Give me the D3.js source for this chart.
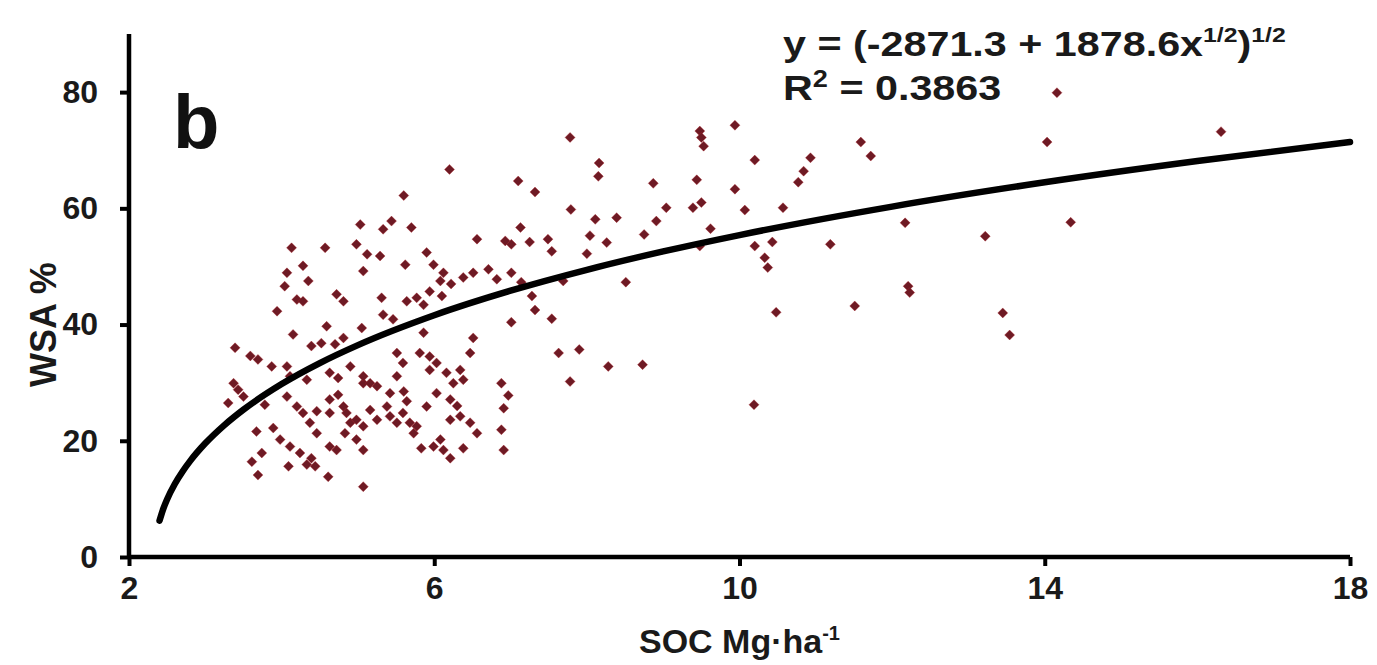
<!DOCTYPE html>
<html><head><meta charset="utf-8">
<script src="https://cdn.jsdelivr.net/npm/d3@7"></script>
<style>body{margin:0;background:#fff}svg{display:block}text{font-family:"Liberation Sans",Arial,sans-serif}</style>
</head><body><svg id="c" width="1377" height="665"></svg>
<script>
// --- data ---
const socValues = [14.16,14.03,16.31,12.17,13.22,14.34,12.21,12.23,13.45,13.54,
7.78,7.10,7.32,8.16,8.15,9.48,9.50,9.53,9.94,10.20,10.93,10.84,10.77,11.59,11.72,8.87,9.44,9.39,9.50,9.04,8.91,8.75,9.62,9.94,10.07,10.57,11.19,10.20,10.33,10.37,10.43,11.51,10.48,10.19,7.79,8.11,8.39,8.04,8.26,8.0,7.49,7.54,7.25,6.93,7.01,7.13,7.01,7.14,7.28,7.69,8.51,9.48,7.32,7.54,7.01,7.63,7.90,7.78,8.28,8.73,6.88,6.97,6.91,6.88,6.91,
5.03,5.33,5.44,5.70,6.56,4.13,4.57,4.98,5.12,5.29,5.07,5.62,5.90,5.99,6.12,6.08,6.38,6.51,6.71,6.82,4.07,4.04,4.28,4.35,4.20,4.28,3.94,4.72,4.81,4.59,4.15,5.05,5.31,5.33,5.46,5.64,5.77,5.86,5.94,6.10,6.22,5.86,6.51,4.39,4.52,4.81,4.70,3.39,3.59,3.69,3.87,4.07,3.37,3.43,3.30,3.50,3.78,3.67,3.89,3.98,4.11,3.61,3.74,3.69,4.09,4.24,4.39,4.44,4.33,4.61,5.07,4.63,4.72,4.83,4.98,5.07,4.46,4.63,4.81,4.07,4.20,4.28,4.11,4.33,4.63,4.74,4.90,5.07,5.16,5.25,5.51,5.42,5.60,5.64,5.81,5.94,6.03,5.94,6.16,6.25,6.34,6.38,6.47,6.21,6.34,6.47,6.56,6.08,6.12,6.21,5.83,5.99,6.38,5.59,5.68,5.77,5.73,5.38,5.42,5.51,5.16,5.25,5.07,4.85,4.90,4.98,4.63,4.74,5.07,5.51,5.59,4.37,4.46,5.90,6.03,6.21,6.30,5.6,6.2];
const wsaValues = [79.9,71.4,73.2,57.5,55.2,57.6,46.6,45.5,42.0,38.2,
72.2,64.7,62.8,67.8,65.5,73.3,72.2,70.7,74.3,68.3,68.7,66.4,64.5,71.4,69.0,64.3,64.9,60.1,61.0,60.1,57.8,55.5,56.5,63.3,59.7,60.1,53.8,53.5,51.5,49.8,54.2,43.2,42.1,26.2,59.8,58.1,58.4,55.3,54.1,52.2,54.7,52.6,54.2,54.4,53.8,56.7,48.9,47.3,44.9,47.5,47.3,53.5,42.5,41.0,40.4,35.1,35.7,30.2,32.8,33.1,29.9,27.8,25.6,21.9,18.4,
57.2,56.4,57.8,56.7,54.7,53.2,53.2,53.8,52.1,51.8,49.2,50.3,52.4,50.3,48.9,47.5,48.1,48.9,49.5,47.8,48.9,46.6,50.1,47.5,44.3,44.0,42.3,45.2,44.0,39.7,38.3,39.4,44.6,41.7,40.9,44.0,44.6,43.4,45.7,44.9,47.0,38.6,37.7,36.3,36.8,37.7,36.6,36.0,34.6,34.0,32.8,32.8,29.9,28.8,26.5,27.6,26.2,21.6,22.2,20.2,19.0,16.4,17.9,14.1,15.6,17.9,17.0,15.6,15.9,13.8,12.1,19.0,18.4,21.3,20.2,18.4,25.1,24.8,25.9,27.6,25.9,24.8,31.1,30.5,31.7,30.8,32.8,29.9,29.9,29.4,31.1,28.2,28.5,26.8,35.1,34.5,33.4,32.2,31.7,29.9,32.2,30.5,35.1,23.6,24.2,23.1,21.3,20.2,18.4,17.0,18.7,19.0,18.7,24.8,23.1,22.5,21.3,25.9,24.2,23.1,25.3,23.6,22.5,24.8,23.1,23.6,27.1,27.9,31.1,35.1,33.4,23.1,21.3,25.9,28.2,27.1,26.0,62.2,66.7];
// fitted trend line
const fitX = [2.4,2.45,2.5,2.6,2.7,2.8,3.0,3.25,3.5,4,4.5,5,6,7,8,9,10,12,14,16,18];
const fitY = [6.25,8.32,9.95,12.56,14.68,16.50,19.56,22.70,25.36,29.76,33.37,36.46,41.60,45.82,49.42,52.58,55.40,60.30,64.48,68.14,71.41];
const xTicks = [2,6,10,14,18];
const yTicks = [0,20,40,60,80];
const panelLabel = "b";
const xTitle = "SOC Mg·ha";
const xTitleSup = "-1";
const yTitle = "WSA %";
const r2Text = "0.3863";

const W = 1377, H = 665;
const m = {left:129, right:27, top:34, bottom:108};
const svg = d3.select("#c");
const x = d3.scaleLinear().domain([2,18]).range([m.left, W - m.right]);
const y = d3.scaleLinear().domain([0,90]).range([H - m.bottom, m.top]);

// axes
const xAxis = svg.append("g").attr("transform",`translate(0,${y(0)})`)
  .call(d3.axisBottom(x).tickValues(xTicks).tickSize(9).tickPadding(10).tickFormat(d3.format("d")));
const yAxis = svg.append("g").attr("transform",`translate(${x(2)},0)`)
  .call(d3.axisLeft(y).tickValues(yTicks).tickSize(9).tickPadding(22).tickFormat(d3.format("d")));
[xAxis,yAxis].forEach(g=>{
  g.select(".domain").attr("stroke","#000").attr("stroke-width",4.5);
  g.selectAll(".tick line").attr("stroke","#000").attr("stroke-width",4);
  g.selectAll(".tick text").attr("fill","#1a1a1a").style("font-size","32px").style("font-weight","bold").style("font-family","Liberation Sans, Arial, sans-serif");
});
xAxis.select(".domain").attr("d",`M${x(2)},0H${x(18)}`);
yAxis.select(".domain").attr("d",`M0,${y(0)}V${y(90)}`);

// points
const pts = socValues.map((v,i)=>({x:v,y:wsaValues[i]}));
const r = 5;
svg.append("g").selectAll("path").data(pts).join("path")
  .attr("d",`M0,${-r}L${r},0L0,${r}L${-r},0Z`)
  .attr("transform",d=>`translate(${x(d.x)},${y(d.y)})`)
  .attr("fill","#6e1a24").attr("stroke","#b3282e").attr("stroke-width",0.6).attr("stroke-opacity",0.6);

// trend line
const line = d3.line().x((d,i)=>x(fitX[i])).y((d,i)=>y(fitY[i])).curve(d3.curveMonotoneX);
svg.append("path").attr("d",line(fitX)).attr("fill","none").attr("stroke","#000")
  .attr("stroke-width",6.5).attr("stroke-linecap","round");

// panel label
svg.append("text").attr("x",x(2)+44).attr("y",y(0)-409).text(panelLabel)
  .style("font-size","76px").style("font-weight","bold").attr("fill","#111");

// axis titles
const xt = svg.append("text").attr("x",(x(2)+x(18))/2).attr("y",653).attr("text-anchor","middle")
  .style("font-size","34px").style("font-weight","bold").attr("fill","#1a1a1a");
xt.append("tspan").text(xTitle);
xt.append("tspan").attr("dy",-13).style("font-size","20px").text(xTitleSup);
svg.append("text").attr("transform",`translate(56,${y(40)}) rotate(-90)`).attr("text-anchor","middle")
  .style("font-size","36px").style("font-weight","bold").attr("fill","#1a1a1a").text(yTitle);

// equation
const eq = svg.append("text").attr("transform","translate(783,56) scale(1.18,1)").style("font-size","35px").style("font-weight","bold").attr("fill","#1a1a1a");
eq.append("tspan").text("y = (-2871.3 + 1878.6x");
eq.append("tspan").attr("dy",-14).style("font-size","21px").text("1/2");
eq.append("tspan").attr("dy",14).text(")");
eq.append("tspan").attr("dy",-14).style("font-size","21px").text("1/2");
const r2 = svg.append("text").attr("transform","translate(783,100) scale(1.18,1)").style("font-size","35px").style("font-weight","bold").attr("fill","#1a1a1a");
r2.append("tspan").text("R");
r2.append("tspan").attr("dy",-13).style("font-size","23px").text("2");
r2.append("tspan").attr("dy",13).text(" = " + r2Text);
</script></body></html>
